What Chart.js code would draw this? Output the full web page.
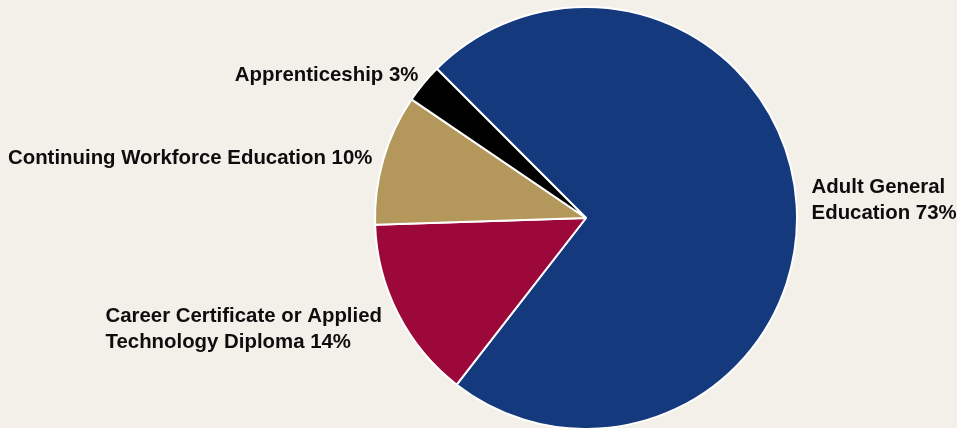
<!DOCTYPE html>
<html>
<head>
<meta charset="utf-8">
<script src="https://cdn.jsdelivr.net/npm/chart.js@4.4.1/dist/chart.umd.min.js"></script>
<style>
  html, body { margin: 0; padding: 0; background: #f3efe9; }
  #wrap { width: 957px; height: 428px; }
</style>
</head>
<body>
<div id="wrap"><canvas id="pie" width="957" height="428"></canvas></div>
<script>
// Data
var categories = ['Adult General Education', 'Career Certificate or Applied Technology Diploma', 'Continuing Workforce Education', 'Apprenticeship'];
var shares = [73, 14, 10, 3];
// how each label is broken into lines
var labelLines = [
    ['Adult General', 'Education 73%'],
    ['Career Certificate or Applied', 'Technology Diploma 14%'],
    ['Continuing Workforce Education 10%'],
    ['Apprenticeship 3%']
];
var colors = ['#15397d', '#9b0839', '#b3975b', '#000000'];

// small nudges for the label blocks, relative to the slice mid point on the rim
var labelNudge = [
    { dx: 15, dy: -4 },
    { dx: -16, dy: 16 },
    { dx: -11, dy: -1 },
    { dx: -5, dy: -8 }
];

var FONT = 'bold 20.4px "Liberation Sans", Arial, sans-serif';
var LINE_H = 26;

// Plugin that writes the outside labels next to each slice
var outsideLabels = {
    id: 'outsideLabels',
    afterDatasetsDraw: function (chart) {
        var ctx = chart.ctx;
        var arcs = chart.getDatasetMeta(0).data;
        ctx.save();
        ctx.font = FONT;
        ctx.fillStyle = '#0d0d0d';
        ctx.textBaseline = 'middle';
        arcs.forEach(function (arc, i) {
            var p = arc.getProps(['x', 'y', 'startAngle', 'endAngle', 'outerRadius'], true);
            var mid = (p.startAngle + p.endAngle) / 2;
            var ax = p.x + Math.cos(mid) * p.outerRadius + labelNudge[i].dx;
            var ay = p.y + Math.sin(mid) * p.outerRadius + labelNudge[i].dy;
            var lines = labelLines[i];
            var w = 0;
            lines.forEach(function (l) { w = Math.max(w, ctx.measureText(l).width); });
            var left = Math.cos(mid) >= 0 ? ax : ax - w;
            var top = ay - (lines.length - 1) * LINE_H / 2;
            ctx.textAlign = 'left';
            lines.forEach(function (l, k) {
                ctx.fillText(l, left, top + k * LINE_H);
            });
        });
        ctx.restore();
    }
};

new Chart(document.getElementById('pie').getContext('2d'), {
    type: 'pie',
    data: {
        labels: categories,
        datasets: [{
            data: shares,
            backgroundColor: colors,
            borderColor: '#ffffff',
            borderWidth: 2
        }]
    },
    options: {
        responsive: false,
        animation: false,
        rotation: -45,
        radius: 211,
        layout: { padding: { left: 215, right: 0, top: 8, bottom: 0 } },
        plugins: {
            legend: { display: false },
            tooltip: { enabled: false }
        }
    },
    plugins: [outsideLabels]
});
</script>
</body>
</html>
